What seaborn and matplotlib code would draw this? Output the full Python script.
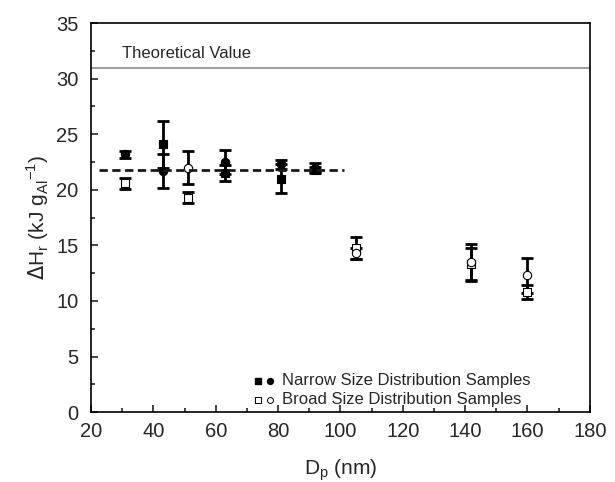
import matplotlib
matplotlib.use("Agg")
import matplotlib.pyplot as plt
import seaborn as sns
import pandas as pd
import numpy as np
from matplotlib.ticker import MultipleLocator

sns.set_theme(style="ticks")
plt.rcParams['font.family'] = ['Liberation Sans', 'DejaVu Sans']

# Narrow size distribution samples
narrow_sq_x = [43, 63, 81, 92]
narrow_sq_y = [24.1, 21.5, 21.0, 21.8]
narrow_sq_err = [2.1, 0.7, 1.3, 0.3]
narrow_ci_x = [31, 43, 63, 81, 92]
narrow_ci_y = [23.2, 21.7, 22.5, 22.3, 22.0]
narrow_ci_err = [0.3, 1.5, 1.1, 0.4, 0.4]
# Broad size distribution samples
broad_sq_x = [31, 51, 105, 142, 160]
broad_sq_y = [20.6, 19.3, 14.8, 13.3, 10.8]
broad_sq_err = [0.5, 0.5, 1.0, 1.5, 0.6]
broad_ci_x = [51, 105, 142, 160]
broad_ci_y = [22.0, 14.3, 13.5, 12.3]
broad_ci_err = [1.5, 0.5, 1.6, 1.6]

theoretical = 31.0
mean_x = [22.5, 101]
mean_y = [21.8, 21.8]

fig = plt.figure(figsize=(6.15, 4.82), dpi=100)
ax = fig.add_axes([0.148, 0.145, 0.811, 0.807])

series = [
    (narrow_sq_x, narrow_sq_y, narrow_sq_err, 's', 'black'),
    (narrow_ci_x, narrow_ci_y, narrow_ci_err, 'o', 'black'),
    (broad_sq_x, broad_sq_y, broad_sq_err, 's', 'white'),
    (broad_ci_x, broad_ci_y, broad_ci_err, 'o', 'white'),
]
for xs, ys, es, m, fc in series:
    ax.errorbar(xs, ys, yerr=es, fmt='none', ecolor='black', elinewidth=2,
                capsize=4, capthick=2, zorder=2)
    df = pd.DataFrame({'x': xs, 'y': ys})
    sns.scatterplot(data=df, x='x', y='y', marker=m, s=36, color=fc,
                    edgecolor='black', linewidth=0.8, ax=ax, zorder=3, legend=False)

ax.axhline(theoretical, color='#8c8c8c', lw=1.2, zorder=1)
ax.text(30, theoretical + 0.6, 'Theoretical Value', fontsize=12, va='bottom', ha='left')
ax.plot(mean_x, mean_y, 'k--', lw=2, dashes=(3, 1.6), zorder=4)

ax.set_xlim(20, 180)
ax.set_ylim(0, 35)
ax.xaxis.set_major_locator(MultipleLocator(20))
ax.xaxis.set_minor_locator(MultipleLocator(10))
ax.yaxis.set_major_locator(MultipleLocator(5))
ax.yaxis.set_minor_locator(MultipleLocator(2.5))
ax.tick_params(which='both', direction='in', width=1.2, labelsize=14.5, top=False, right=False)
ax.tick_params(which='major', length=5)
ax.tick_params(which='minor', length=3)
ax.tick_params(axis='x', which='major', pad=7)
ax.tick_params(axis='y', which='major', pad=9)
for s in ax.spines.values():
    s.set_linewidth(1.2)
    s.set_color('black')

ax.set_xlabel(r'D$_\mathregular{p}$ (nm)', fontsize=15, labelpad=12)
ax.set_ylabel(r'$\Delta$H$_\mathregular{r}$ (kJ g$_\mathregular{Al}$$^\mathregular{-1}$)', fontsize=15, labelpad=4)

# Legend
ax.scatter([73.6], [2.8], marker='s', s=18, color='black', zorder=5)
ax.scatter([77.4], [2.8], marker='o', s=18, color='black', zorder=5)
ax.scatter([73.6], [1.1], marker='s', s=18, facecolor='white', edgecolor='black', lw=0.7, zorder=5)
ax.scatter([77.4], [1.1], marker='o', s=18, facecolor='white', edgecolor='black', lw=0.7, zorder=5)
ax.text(81.3, 2.8, 'Narrow Size Distribution Samples', fontsize=12, va='center')
ax.text(81.3, 1.1, 'Broad Size Distribution Samples', fontsize=12, va='center')

fig.savefig('out.png', dpi=100, facecolor='white')
